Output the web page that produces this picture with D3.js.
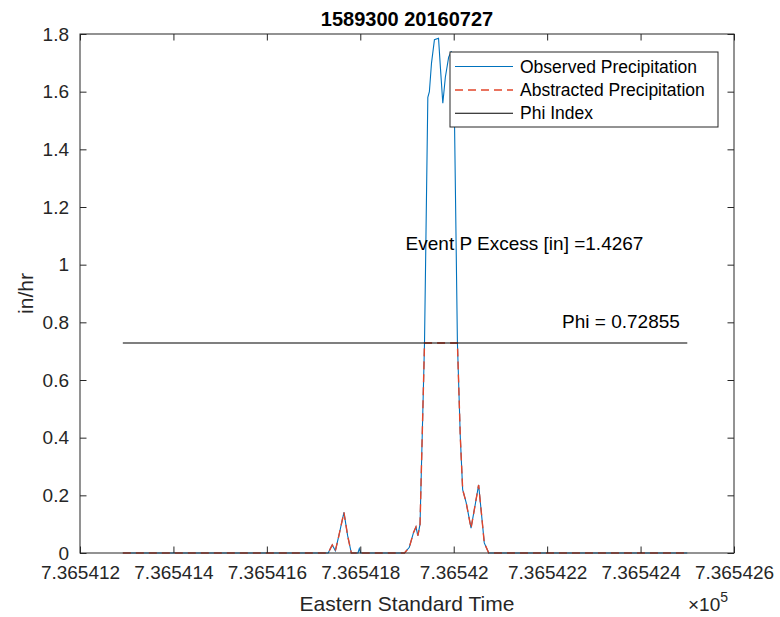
<!DOCTYPE html>
<html>
<head>
<meta charset="utf-8">
<script src="https://cdn.jsdelivr.net/npm/d3@7"></script>
<style>
  html, body { margin: 0; padding: 0; background: #ffffff; }
  svg { display: block; font-family: "Liberation Sans", Arial, Helvetica, sans-serif; }
</style>
</head>
<body>
<svg id="chart" width="780" height="617"></svg>
<script>
// ---- data ----
const titleText = "1589300 20160727";
const startDatenum = 736541 + 7 / 24;       // first sample (datenum)
const hours = [0, 10.55, 10.76, 10.92, 11.1, 11.36, 11.55, 11.74, 12.08, 12.15,
               12.22, 14.47, 14.72, 14.93, 15.06, 15.16, 15.27, 15.50, 15.67, 15.75,
               15.86, 16.01, 16.22, 16.32, 16.44, 16.57, 16.74, 16.88, 17.04, 17.19,
               17.34, 17.46, 17.64, 17.89, 18.11, 18.28, 18.42, 18.57, 18.8, 29];
const observed = [0, 0, 0.028, 0.008, 0.06, 0.141, 0.06, 0, 0, 0.015,
                  0, 0, 0.02, 0.07, 0.09, 0.06, 0.1, 0.73, 1.58, 1.6,
                  1.7, 1.78, 1.785, 1.68, 1.56, 1.65, 1.72, 1.74, 1.5, 0.73,
                  0.4, 0.22, 0.175, 0.086, 0.17, 0.236, 0.14, 0.035, 0, 0];
const phiValue = 0.72855;
const abstracted = [0, 0, 0.028, 0.008, 0.06, 0.141, 0.06, 0, 0, 0,
                    0, 0, 0.02, 0.07, 0.09, 0.06, 0.1, 0.72855, 0.72855, 0.72855,
                    0.72855, 0.72855, 0.72855, 0.72855, 0.72855, 0.72855, 0.72855, 0.72855, 0.72855, 0.72855,
                    0.4, 0.22, 0.175, 0.086, 0.17, 0.236, 0.14, 0.035, 0, 0];
const eventExcess = "1.4267";
const xTickValues = [736541.2, 736541.4, 736541.6, 736541.8, 736542.0, 736542.2, 736542.4, 736542.6];
const xTickLabels = ["7.365412", "7.365414", "7.365416", "7.365418", "7.36542", "7.365422", "7.365424", "7.365426"];
const yTickValues = [0, 0.2, 0.4, 0.6, 0.8, 1, 1.2, 1.4, 1.6, 1.8];
const yTickLabels = ["0", "0.2", "0.4", "0.6", "0.8", "1", "1.2", "1.4", "1.6", "1.8"];
const legendLabels = ["Observed Precipitation", "Abstracted Precipitation", "Phi Index"];
const xLabel = "Eastern Standard Time";
const yLabel = "in/hr";
const eventTextPos = [736541.897, 1.075];
const phiTextPos = [736542.232, 0.805];

// ---- layout ----
const L = 80, R = 734, T = 34, B = 553;
const axisColor = "#262626";
const blue = "#0072BD";
const red = "#E2452A";

const svg = d3.select("#chart");
const x = d3.scaleLinear().domain([736541.2, 736542.6]).range([L, R]);
const y = d3.scaleLinear().domain([0, 1.8]).range([B, T]);

const obsData = hours.map((h, i) => ({ t: startDatenum + h / 24, v: observed[i] }));
const absData = hours.map((h, i) => ({ t: startDatenum + h / 24, v: abstracted[i] }));
const tEnd = startDatenum + hours[hours.length - 1] / 24;

const line = d3.line().x(d => x(d.t)).y(d => y(d.v));

// white axes background
svg.append("rect").attr("x", L).attr("y", T).attr("width", R - L).attr("height", B - T).attr("fill", "#fff");

// series
svg.append("path").datum(obsData).attr("d", line)
  .attr("fill", "none").attr("stroke", blue).attr("stroke-width", 1.1);
svg.append("path").datum(absData).attr("d", line)
  .attr("fill", "none").attr("stroke", red).attr("stroke-width", 1.4)
  .attr("stroke-dasharray", "8,5");
svg.append("path").datum([{ t: startDatenum, v: phiValue }, { t: tEnd, v: phiValue }]).attr("d", line)
  .attr("fill", "none").attr("stroke", "#000").attr("stroke-width", 1.1);

// axes
const fs = 19;
function styleAxis(g) {
  g.select(".domain").remove();
  g.selectAll(".tick line").attr("stroke", axisColor).attr("stroke-width", 1);
  g.selectAll(".tick text").attr("fill", axisColor).attr("font-size", fs).attr("font-family", null);
}
svg.append("g").attr("transform", `translate(0,${B})`)
  .call(d3.axisBottom(x).tickValues(xTickValues).tickFormat((d, i) => xTickLabels[i])
    .tickSizeInner(-6.5).tickSizeOuter(0).tickPadding(12.5))
  .call(styleAxis);
svg.append("g").attr("transform", `translate(0,${T})`)
  .call(d3.axisTop(x).tickValues(xTickValues).tickFormat("")
    .tickSizeInner(-6.5).tickSizeOuter(0))
  .call(styleAxis);
svg.append("g").attr("transform", `translate(${L},0)`)
  .call(d3.axisLeft(y).tickValues(yTickValues).tickFormat((d, i) => yTickLabels[i])
    .tickSizeInner(-6.5).tickSizeOuter(0).tickPadding(11))
  .call(styleAxis);
svg.append("g").attr("transform", `translate(${R},0)`)
  .call(d3.axisRight(y).tickValues(yTickValues).tickFormat("")
    .tickSizeInner(-6.5).tickSizeOuter(0))
  .call(styleAxis);

// box
svg.append("rect").attr("x", L).attr("y", T).attr("width", R - L).attr("height", B - T)
  .attr("fill", "none").attr("stroke", axisColor).attr("stroke-width", 1);

// annotations
svg.append("text").attr("x", x(eventTextPos[0])).attr("y", y(eventTextPos[1]))
  .attr("dy", "0.35em").attr("font-size", fs).attr("fill", "#000")
  .text("Event P Excess [in] =" + eventExcess);
svg.append("text").attr("x", x(phiTextPos[0])).attr("y", y(phiTextPos[1]))
  .attr("dy", "0.35em").attr("font-size", fs).attr("fill", "#000")
  .text("Phi = " + phiValue);

// title
svg.append("text").attr("x", (L + R) / 2).attr("y", 26).attr("text-anchor", "middle")
  .attr("font-size", 20).attr("font-weight", "bold").attr("fill", "#000").text(titleText);

// axis labels
svg.append("text").attr("x", (L + R) / 2).attr("y", 611).attr("text-anchor", "middle")
  .attr("font-size", 21).attr("fill", axisColor).text(xLabel);
svg.append("text").attr("transform", `translate(33,${(T + B) / 2}) rotate(-90)`)
  .attr("text-anchor", "middle").attr("font-size", 21).attr("fill", axisColor).text(yLabel);

// exponent
const ex = svg.append("text").attr("x", 688).attr("y", 611).attr("font-size", 19).attr("fill", axisColor);
ex.append("tspan").text("\u00d710");
ex.append("tspan").attr("dy", -9).attr("font-size", 14).text("5");

// legend
const lg = svg.append("g");
lg.append("rect").attr("x", 450).attr("y", 52).attr("width", 268).attr("height", 75)
  .attr("fill", "#fff").attr("stroke", axisColor).attr("stroke-width", 1);
const rowsY = [66.5, 90, 113.3];
const styles = [
  { c: blue, w: 1.1, dash: null },
  { c: red, w: 1.4, dash: "8,5" },
  { c: "#000", w: 1.1, dash: null }
];
legendLabels.forEach((lab, i) => {
  lg.append("line").attr("x1", 455).attr("x2", 513).attr("y1", rowsY[i]).attr("y2", rowsY[i])
    .attr("stroke", styles[i].c).attr("stroke-width", styles[i].w)
    .attr("stroke-dasharray", styles[i].dash);
  lg.append("text").attr("x", 520).attr("y", rowsY[i]).attr("dy", "0.35em")
    .attr("font-size", 17.5).attr("fill", "#000").text(lab);
});
</script>
</body>
</html>
